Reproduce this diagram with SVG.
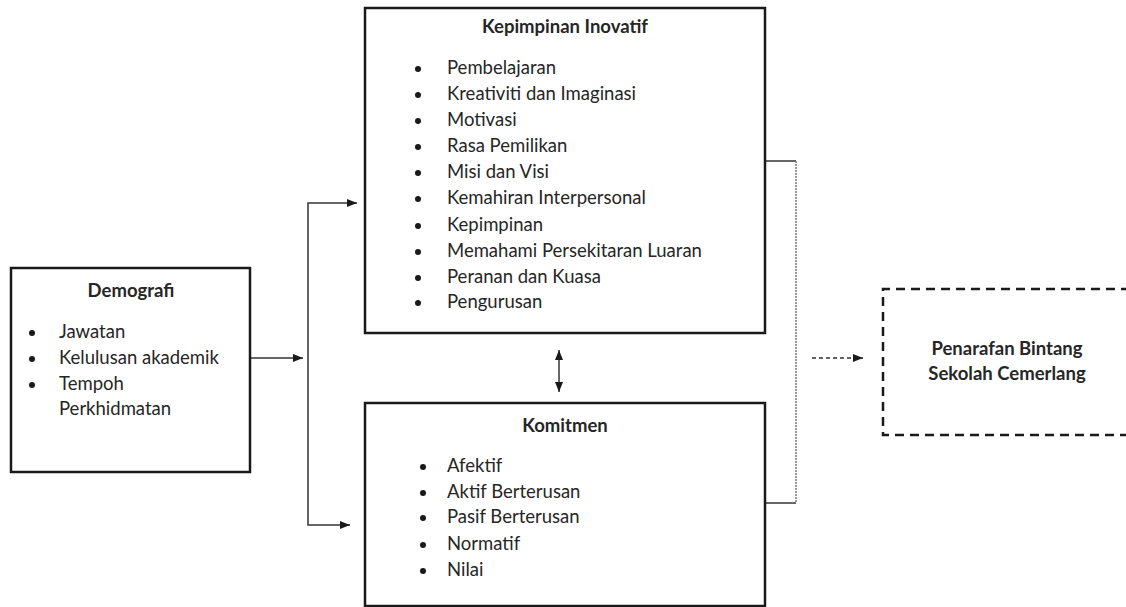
<svg xmlns="http://www.w3.org/2000/svg" width="1126" height="607" viewBox="0 0 1126 607">
<style>
.box{fill:#fff;stroke:#1a1a1a;stroke-width:2.5}
.dash{fill:none;stroke:#1a1a1a;stroke-width:2.5;stroke-dasharray:9 6}
.t{font-family:Lato,"Liberation Sans",sans-serif;font-size:18.5px;fill:#262626}
.b{font-weight:bold;text-anchor:middle}
.dot{fill:#1a1a1a}
.ln{fill:none;stroke:#333;stroke-width:1.5}
.dl{fill:none;stroke:#777;stroke-width:1.5;stroke-dasharray:2 1}
</style>
<defs>
<marker id="ah" viewBox="0 0 10 10" refX="10" refY="5" markerWidth="10" markerHeight="10" markerUnits="userSpaceOnUse" orient="auto-start-reverse">
<path d="M0,1 L10,5 L0,9 Z" fill="#1a1a1a"/>
</marker>
</defs>
<g id="connectors">
<path class="ln" d="M251,358 H303" marker-end="url(#ah)"/>
<path class="ln" d="M357,203 H308 V525 H350" marker-start="url(#ah)" marker-end="url(#ah)"/>
<path class="ln" d="M559,350 V392" marker-start="url(#ah)" marker-end="url(#ah)"/>
<path class="ln" d="M766,161 H796"/>
<path class="dl" d="M796,161 V503"/>
<path class="ln" d="M766,503 H796"/>
<path d="M812,358 H863" fill="none" stroke="#333" stroke-width="1.5" stroke-dasharray="4 3" marker-end="url(#ah)"/>
</g>
<g id="demografi">
<rect class="box" x="11" y="268" width="239" height="204"/>
<text class="t b" x="131" y="297">Demografi</text>
<circle class="dot" cx="32" cy="333" r="3"/>
<circle class="dot" cx="32" cy="359" r="3"/>
<circle class="dot" cx="32" cy="385" r="3"/>
<text class="t" x="59" y="338">Jawatan</text>
<text class="t" x="59" y="364">Kelulusan akademik</text>
<text class="t" x="59" y="390">Tempoh</text>
<text class="t" x="59" y="415">Perkhidmatan</text>
</g>
<g id="kepimpinan">
<rect class="box" x="365" y="8" width="400" height="325"/>
<text class="t b" x="565" y="33">Kepimpinan Inovatif</text>
<g class="dot">
<circle cx="418" cy="69" r="3"/><circle cx="418" cy="95" r="3"/><circle cx="418" cy="121" r="3"/><circle cx="418" cy="147" r="3"/><circle cx="418" cy="173" r="3"/><circle cx="418" cy="199" r="3"/><circle cx="418" cy="226" r="3"/><circle cx="418" cy="252" r="3"/><circle cx="418" cy="278" r="3"/><circle cx="418" cy="303" r="3"/>
</g>
<text class="t" x="447" y="74">Pembelajaran</text>
<text class="t" x="447" y="100">Kreativiti dan Imaginasi</text>
<text class="t" x="447" y="126">Motivasi</text>
<text class="t" x="447" y="152">Rasa Pemilikan</text>
<text class="t" x="447" y="178">Misi dan Visi</text>
<text class="t" x="447" y="204">Kemahiran Interpersonal</text>
<text class="t" x="447" y="231">Kepimpinan</text>
<text class="t" x="447" y="257">Memahami Persekitaran Luaran</text>
<text class="t" x="447" y="283">Peranan dan Kuasa</text>
<text class="t" x="447" y="308">Pengurusan</text>
</g>
<g id="komitmen">
<rect class="box" x="365" y="403" width="400" height="203"/>
<text class="t b" x="565" y="432">Komitmen</text>
<g class="dot">
<circle cx="423" cy="467" r="3"/><circle cx="423" cy="493" r="3"/><circle cx="423" cy="518" r="3"/><circle cx="423" cy="545" r="3"/><circle cx="423" cy="571" r="3"/>
</g>
<text class="t" x="447" y="472">Afektif</text>
<text class="t" x="447" y="498">Aktif Berterusan</text>
<text class="t" x="447" y="523">Pasif Berterusan</text>
<text class="t" x="447" y="550">Normatif</text>
<text class="t" x="447" y="576">Nilai</text>
</g>
<g id="penarafan">
<path class="dash" d="M1130,289 H883 V435 H1130"/>
<text class="t b" x="1007" y="355">Penarafan Bintang</text>
<text class="t b" x="1007" y="380">Sekolah Cemerlang</text>
</g>
</svg>
